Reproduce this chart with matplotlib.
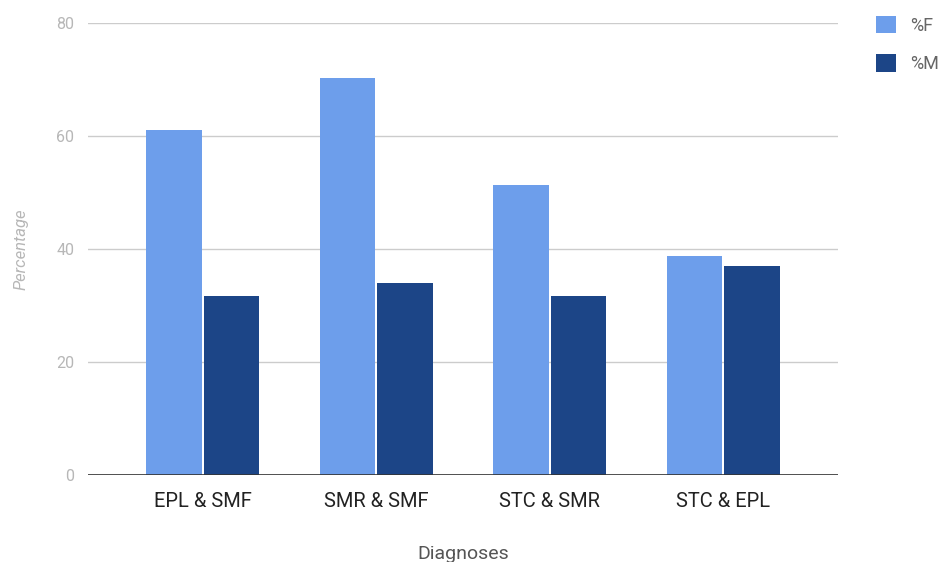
import numpy as np
import matplotlib
matplotlib.use("Agg")
import matplotlib.pyplot as plt
from matplotlib.patches import Patch

categories = ["EPL & SMF", "SMR & SMF", "STC & SMR", "STC & EPL"]
pct_f = [61.0, 70.3, 51.3, 38.8]
pct_m = [31.7, 34.0, 31.7, 37.0]
series_names = ["%F", "%M"]

C_F = "#6d9eeb"
C_M = "#1c4587"
GRID = "#cccccc"

plt.rcParams["font.family"] = ["Roboto", "DejaVu Sans"]

fig = plt.figure(figsize=(9.39, 5.62), dpi=100)
ax = fig.add_axes([0.0937, 0.1548, 0.7987, 0.8042])

x = np.arange(len(categories))
w = 0.32
ax.bar(x - w / 2 - 0.006, pct_f, width=w, color=C_F, edgecolor="none", zorder=3)
ax.bar(x + w / 2 + 0.006, pct_m, width=w, color=C_M, edgecolor="none", zorder=3)

ax.set_xlim(-0.66, 3.66)
ax.set_ylim(0, 80)
ax.set_yticks([0, 20, 40, 60, 80])
ax.grid(axis="y", color=GRID, lw=1, zorder=0)
ax.axhline(0, color="#333333", lw=1.2, zorder=4)

for s in ax.spines.values():
    s.set_visible(False)

ax.set_xticks(x)
ax.set_xticklabels(categories, fontsize=14.5, color="#222222")
ax.tick_params(axis="x", length=0, pad=12)
ax.tick_params(axis="y", length=0, pad=10, labelsize=11.5, labelcolor="#b7b7b7")

ax.set_ylabel("Percentage", fontsize=12, style="italic", color="#b7b7b7", labelpad=20)
ax.set_xlabel("Diagnoses", fontsize=14, color="#555555", labelpad=25)

handles = [Patch(facecolor=C_F, edgecolor="none"), Patch(facecolor=C_M, edgecolor="none")]
leg = fig.legend(handles, series_names, loc="upper left", bbox_to_anchor=(0.933, 0.972),
                 frameon=False, fontsize=13, handlelength=1.1, handleheight=1.1,
                 labelspacing=1.1, handletextpad=0.78, borderpad=0, borderaxespad=0)
for t in leg.get_texts():
    t.set_color("#666666")

fig.savefig("out.png", dpi=100)
